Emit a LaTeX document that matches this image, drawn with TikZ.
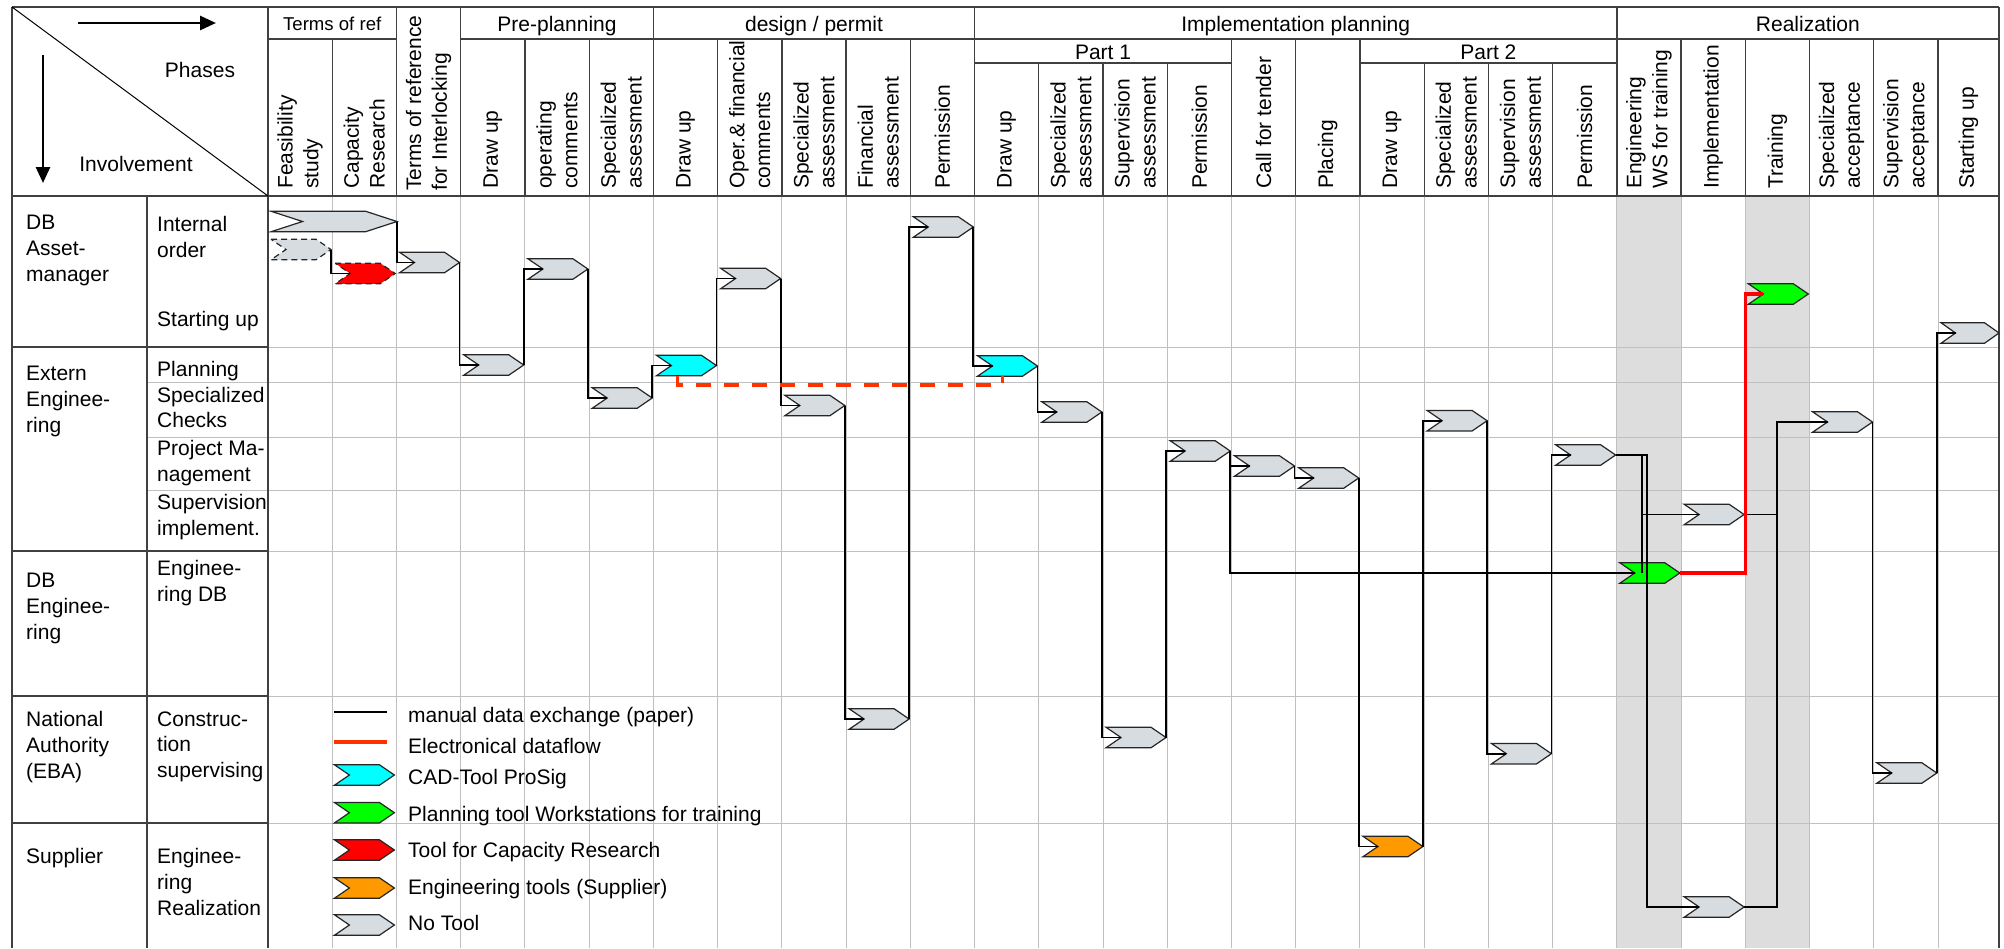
\documentclass[tikz,border=0pt]{standalone}
\usepackage{fontspec}
\setmainfont{Liberation Sans}
\usetikzlibrary{arrows.meta}

\definecolor{notool}{RGB}{214,220,224}
\definecolor{cadtool}{RGB}{0,255,255}
\definecolor{plantool}{RGB}{0,255,0}
\definecolor{captool}{RGB}{255,0,0}
\definecolor{engtool}{RGB}{255,153,0}
\definecolor{eflowred}{RGB}{255,51,0}
\definecolor{gridgray}{RGB}{192,192,192}
\definecolor{hilite}{RGB}{221,221,221}

% chevron: notched arrow, point depth = width/4
\makeatletter
\pgfdeclareshape{chevron}{%
  \inheritsavedanchors[from=rectangle]%
  \inheritanchorborder[from=rectangle]%
  \inheritanchor[from=rectangle]{center}%
  \inheritanchor[from=rectangle]{north}%
  \inheritanchor[from=rectangle]{south}%
  \inheritanchor[from=rectangle]{east}%
  \inheritanchor[from=rectangle]{west}%
  \inheritanchor[from=rectangle]{north east}%
  \inheritanchor[from=rectangle]{north west}%
  \inheritanchor[from=rectangle]{south east}%
  \inheritanchor[from=rectangle]{south west}%
  \anchor{notch}{%
    \southwest \pgf@xa=\pgf@x \pgf@ya=\pgf@y
    \northeast
    \advance\pgf@x by -\pgf@xa
    \pgf@x=.25\pgf@x
    \advance\pgf@x by \pgf@xa
    \advance\pgf@y by \pgf@ya
    \pgf@y=.5\pgf@y
  }%
  \backgroundpath{%
    \southwest \pgf@xa=\pgf@x \pgf@ya=\pgf@y
    \northeast \pgf@xb=\pgf@x \pgf@yb=\pgf@y
    \pgf@xc=\pgf@xb \advance\pgf@xc by -\pgf@xa \pgf@xc=.25\pgf@xc
    \pgf@yc=\pgf@ya \advance\pgf@yc by \pgf@yb \pgf@yc=.5\pgf@yc
    \edef\chev@l{\the\pgf@xa}\edef\chev@r{\the\pgf@xb}%
    \edef\chev@b{\the\pgf@ya}\edef\chev@t{\the\pgf@yb}\edef\chev@m{\the\pgf@yc}%
    \advance\pgf@xa by \pgf@xc \edef\chev@n{\the\pgf@xa}%
    \advance\pgf@xb by -\pgf@xc \edef\chev@k{\the\pgf@xb}%
    \pgfpathmoveto{\pgfqpoint{\chev@l}{\chev@t}}%
    \pgfpathlineto{\pgfqpoint{\chev@k}{\chev@t}}%
    \pgfpathlineto{\pgfqpoint{\chev@r}{\chev@m}}%
    \pgfpathlineto{\pgfqpoint{\chev@k}{\chev@b}}%
    \pgfpathlineto{\pgfqpoint{\chev@l}{\chev@b}}%
    \pgfpathlineto{\pgfqpoint{\chev@n}{\chev@m}}%
    \pgfpathclose
  }%
}
\makeatother

\begin{document}
\begin{tikzpicture}[x=1pt, y=-1pt,
  txt/.style={font=\fontsize{21}{25.8}\selectfont, inner sep=0pt, align=left},
  rowlbl/.style={txt, anchor=north west},
  collbl/.style={txt, rotate=90, anchor=west},
  headlbl/.style={txt, anchor=base},
  chev/.style={shape=chevron, draw=black!85, line width=1.2pt, fill=notool,
    minimum width=60pt, minimum height=20.5pt, inner sep=0pt, outer sep=0pt},
  tentative/.style={dash pattern=on 6pt off 4pt},
  flow/.style={line width=1.8pt, black},
  eflow/.style={line width=3.5pt, captool},
  dark/.style={line width=1.3pt, black!75},
  gridline/.style={line width=1pt, gridgray},
]
\useasboundingbox (0,0) rectangle (2004,948);

  % shaded training columns
  \fill[hilite] (1616.8,196) rectangle (1681.1,948);
  \fill[hilite] (1745.3,196) rectangle (1809.5,948);

  % grid of the matrix
  \foreach \c in {1,...,26}
    \draw[gridline] ({268+64.23*\c},196) -- ({268+64.23*\c},948);
  \foreach \y in {347,382,437,490,551,696,823}
    \draw[gridline] (268,\y) -- (1999,\y);
  \foreach \y in {382,437,490}
    \draw[gridline] (147,\y) -- (268,\y);

  % frame and header lines
  \draw[dark] (12,7) -- (1999,7);
  \draw[dark] (12,196) -- (1999,196);
  \draw[dark] (12,7) -- (12,948);
  \draw[dark] (147,196) -- (147,948);
  \draw[dark] (268,196) -- (268,948);
  \draw[dark] (1999,7) -- (1999,948);
  \foreach \y in {347,551,696,823}
    \draw[dark] (12,\y) -- (268,\y);
  \draw[dark] (268,39) -- (396.5,39);
  \draw[dark] (460.7,39) -- (1999,39);
  \draw[dark] (974.5,63) -- (1231.5,63);
  \draw[dark] (1359.9,63) -- (1616.8,63);
  \foreach \c in {0,2,3,6,11,21}
    \draw[dark] ({268+64.23*\c},7) -- ({268+64.23*\c},196);
  \foreach \c in {1,4,5,7,8,9,10,15,16,17,22,23,24,25,26}
    \draw[dark] ({268+64.23*\c},39) -- ({268+64.23*\c},196);
  \foreach \c in {12,13,14,18,19,20}
    \draw[dark] ({268+64.23*\c},63) -- ({268+64.23*\c},196);
  \draw[line width=1pt] (12,7) -- (268,196);

  % corner cell
  \draw[line width=2.7pt, -{Triangle[length=16pt,width=14pt]}] (78,23) -- (216,23);
  \draw[line width=2.7pt, -{Triangle[length=16pt,width=14pt]}] (43,55) -- (43,183);
  \node[headlbl] (hphases) at (200,77) {Phases};
  \node[headlbl] (hinvolve) at (136,171.7) {Involvement};

  % phases
  \node[headlbl, font=\fontsize{18.6}{22}\selectfont] (htor) at (332.2,30) {Terms of ref};
  \node[headlbl] (hpre) at (557,31) {Pre-planning};
  \node[headlbl] (hdes) at (814,31) {design / permit};
  \node[headlbl] (himpl) at (1295.7,31) {Implementation planning};
  \node[headlbl] (hreal) at (1807.9,31) {Realization};
  \node[headlbl] (hpart1) at (1103,59) {Part 1};
  \node[headlbl] (hpart2) at (1488.4,59) {Part 2};

  % steps
  \node[collbl] (s1) at (300.1,189) {Feasibility\\study};
  \node[collbl] (s2) at (364.3,189) {Capacity\\Research};
  \node[collbl] (s3) at (428.6,191) {Terms of reference\\for Interlocking};
  \node[collbl] (s4) at (492.8,189) {Draw up};
  \node[collbl] (s5) at (557.0,189) {operating\\comments};
  \node[collbl] (s6) at (621.3,189) {Specialized\\assessment};
  \node[collbl] (s7) at (685.5,189) {Draw up};
  \node[collbl] (s8) at (749.7,189) {Oper.\& financial\\comments};
  \node[collbl] (s9) at (813.9,189) {Specialized\\assessment};
  \node[collbl] (s10) at (878.2,189) {Financial\\assessment};
  \node[collbl] (s11) at (942.4,189) {Permission};
  \node[collbl] (s12) at (1006.6,189) {Draw up};
  \node[collbl] (s13) at (1070.9,189) {Specialized\\assessment};
  \node[collbl] (s14) at (1135.1,189) {Supervision\\assessment};
  \node[collbl] (s15) at (1199.3,189) {Permission};
  \node[collbl] (s16) at (1263.6,189) {Call for tender};
  \node[collbl] (s17) at (1327.8,189) {Placing};
  \node[collbl] (s18) at (1392.0,189) {Draw up};
  \node[collbl] (s19) at (1456.2,189) {Specialized\\assessment};
  \node[collbl] (s20) at (1520.5,189) {Supervision\\assessment};
  \node[collbl] (s21) at (1584.7,189) {Permission};
  \node[collbl] (s22) at (1648.9,189) {Engineering\\WS for training};
  \node[collbl] (s23) at (1713.2,189) {Implementation};
  \node[collbl] (s24) at (1777.4,189) {Training};
  \node[collbl] (s25) at (1841.6,189) {Specialized\\acceptance};
  \node[collbl] (s26) at (1905.9,189) {Supervision\\acceptance};
  \node[collbl] (s27) at (1968.5,189) {Starting up};

  % involvement
  \node[rowlbl] (rasset) at (26,214.8) {DB\\Asset-\\manager};
  \node[rowlbl] (rorder) at (157,216.5) {Internal\\order};
  \node[rowlbl] (rstart) at (157,311.5) {Starting up};
  \node[rowlbl] (rextern) at (26,366.1) {Extern\\Enginee-\\ring};
  \node[rowlbl] (rplan) at (157,360.8) {Planning};
  \node[rowlbl] (rcheck) at (157,386.6) {Specialized\\Checks};
  \node[rowlbl] (rproj) at (157,440.2) {Project Ma-\\nagement};
  \node[rowlbl] (rsuper) at (157,494.3) {Supervision\\implement.};
  \node[rowlbl] (rdbeng) at (26,573.2) {DB\\Enginee-\\ring};
  \node[rowlbl] (rengdb) at (157,560.2) {Enginee-\\ring DB};
  \node[rowlbl] (reba) at (26,711.2) {National\\Authority\\(EBA)};
  \node[rowlbl] (rconstr) at (157,711.2) {Construc-\\tion\\supervising};
  \node[rowlbl] (rsupp) at (26,848.1) {Supplier};
  \node[rowlbl] (rreal) at (157,848.1) {Enginee-\\ring\\Realization};

  % process chevrons
  \node[chev, minimum width=126pt] (order) at (334,221.5) {};
  \node[chev, tentative] (feasd) at (301,249.5) {};
  \node[chev, tentative, fill=captool] (capres) at (365.2,273.5) {};
  \node[chev] (torint) at (429.5,262.5) {};
  \node[chev] (ppdraw) at (493.7,365) {};
  \node[chev] (ppoper) at (557.9,269) {};
  \node[chev] (ppspec) at (622.2,398) {};
  \node[chev, fill=cadtool] (dpdraw) at (686.4,365.5) {};
  \node[chev] (dpoper) at (750.6,278.5) {};
  \node[chev] (dpspec) at (814.8,405.5) {};
  \node[chev] (dpfin) at (879.1,719) {};
  \node[chev] (dpperm) at (943.3,227) {};
  \node[chev, fill=cadtool] (p1draw) at (1007.5,366) {};
  \node[chev] (p1spec) at (1071.8,412) {};
  \node[chev] (p1sup) at (1136.0,737.5) {};
  \node[chev] (p1perm) at (1200.2,451) {};
  \node[chev] (tender) at (1264.5,466) {};
  \node[chev] (placing) at (1328.7,478) {};
  \node[chev, fill=engtool] (p2draw) at (1392.9,846.5) {};
  \node[chev] (p2spec) at (1457.1,420.7) {};
  \node[chev] (p2sup) at (1521.4,753.7) {};
  \node[chev] (p2perm) at (1585.6,455) {};
  \node[chev, fill=plantool] (ews) at (1649.8,573) {};
  \node[chev] (implA) at (1714.1,514.5) {};
  \node[chev] (implB) at (1714.1,907) {};
  \node[chev, fill=plantool] (train) at (1778.3,294) {};
  \node[chev] (specacc) at (1842.5,422) {};
  \node[chev] (supacc) at (1906.8,773) {};
  \node[chev, minimum width=58pt] (start) at (1970,333) {};

  % manual data exchange
  \draw[flow] (order.east) |- (torint.notch);
  \draw[flow] (feasd.east) |- (capres.notch);
  \draw[flow] (torint.east) |- (ppdraw.notch);
  \draw[flow] (ppdraw.east) |- (ppoper.notch);
  \draw[flow] (ppoper.east) |- (ppspec.notch);
  \draw[flow] (ppspec.east) |- (dpdraw.notch);
  \draw[flow] (dpdraw.east) |- (dpoper.notch);
  \draw[flow] (dpoper.east) |- (dpspec.notch);
  \draw[flow] (dpspec.east) |- (dpfin.notch);
  \draw[flow] (dpfin.east) |- (dpperm.notch);
  \draw[flow] (dpperm.east) |- (p1draw.notch);
  \draw[flow] (p1draw.east) |- (p1spec.notch);
  \draw[flow] (p1spec.east) |- (p1sup.notch);
  \draw[flow] (p1sup.east) |- (p1perm.notch);
  \draw[flow] (p1perm.east) |- (tender.notch);
  \draw[flow] (p1perm.east) |- (ews.notch);
  \draw[flow] (tender.east) |- (placing.notch);
  \draw[flow] (placing.east) |- (p2draw.notch);
  \draw[flow] (p2draw.east) |- (p2spec.notch);
  \draw[flow] (p2spec.east) |- (p2sup.notch);
  \draw[flow] (p2sup.east) |- (p2perm.notch);
  \coordinate (splitA) at (1642,455);
  \coordinate (splitB) at (1647,455);
  \draw[flow] (p2perm.east) -- (splitB) |- (implB.notch);
  \draw[flow] (splitA) |- (implA.notch);
  \draw[flow] (splitA) -- (splitA |- ews.center);
  \coordinate (joinA) at (1777,422);
  \draw[flow] (implA.east) -| (joinA) -- (specacc.notch);
  \draw[flow] (implB.east) -| (joinA);
  \draw[flow] (specacc.east) |- (supacc.notch);
  \draw[flow] (supacc.east) |- (start.notch);

  % electronical dataflow
  \draw[eflow, eflowred, dash pattern=on 15pt off 13pt]
    ([xshift=-9pt]dpdraw.south) -- ++(0,9) -| ([xshift=-5pt]p1draw.south);
  \draw[eflow] (ews.east) -| ([xshift=-18pt]train.notch) -- (train.notch);

  % legend
  \coordinate (lgman) at (334,712);
  \coordinate (lgel) at (334,742);
  \draw[flow] (lgman) -- ++(53,0);
  \draw[line width=4pt, eflowred] (lgel) -- ++(53,0);
  \node[chev, fill=cadtool] (lgcad) at (364.4,775) {};
  \node[chev, fill=plantool] (lgplan) at (364.4,812.7) {};
  \node[chev, fill=captool] (lgcap) at (364.4,850) {};
  \node[chev, fill=engtool] (lgeng) at (364.4,888) {};
  \node[chev] (lgno) at (364.4,925) {};
  \node[txt, anchor=base west] (lgtman) at (408,722) {manual data exchange (paper)};
  \node[txt, anchor=base west] (lgtel) at (408,753) {Electronical dataflow};
  \node[txt, anchor=base west] (lgtcad) at (408,784) {CAD-Tool ProSig};
  \node[txt, anchor=base west] (lgtplan) at (408,821) {Planning tool Workstations for training};
  \node[txt, anchor=base west] (lgtcap) at (408,857) {Tool for Capacity Research};
  \node[txt, anchor=base west] (lgteng) at (408,894) {Engineering tools (Supplier)};
  \node[txt, anchor=base west] (lgtno) at (408,930) {No Tool};

\end{tikzpicture}
\end{document}
